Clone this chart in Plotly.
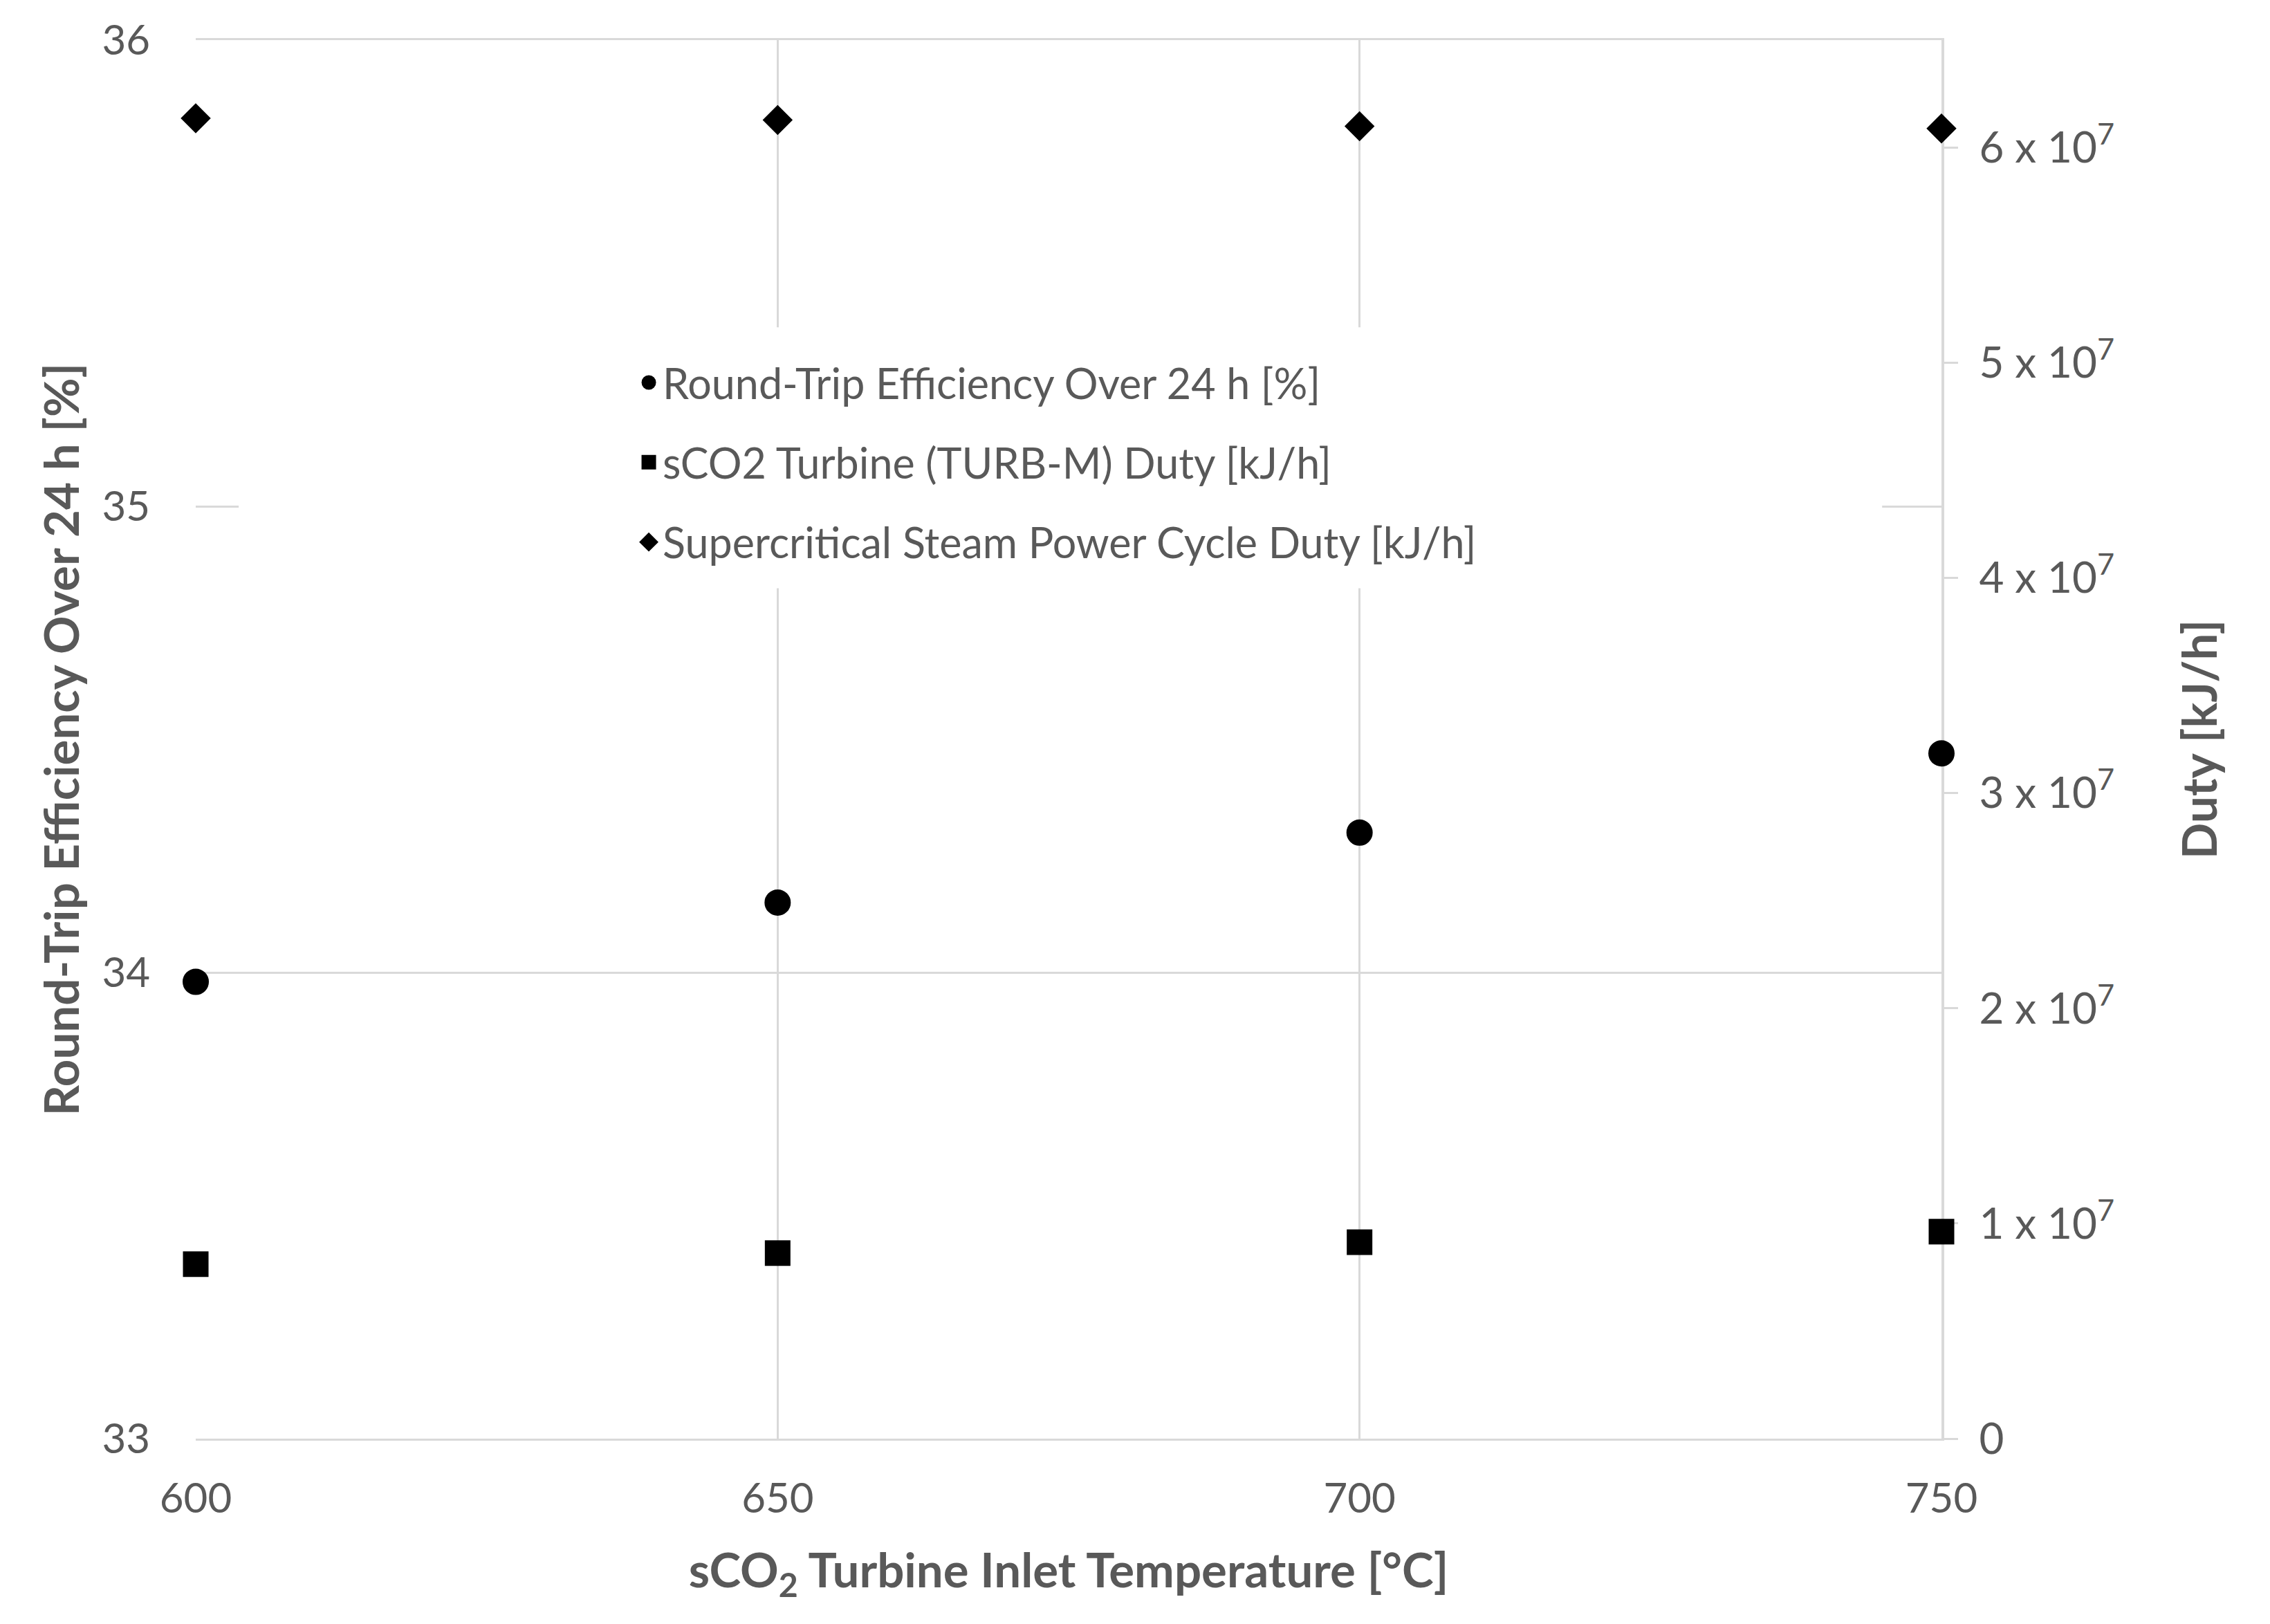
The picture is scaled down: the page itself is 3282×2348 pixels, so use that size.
import plotly.graph_objects as go

# Data
temperature = [600, 650, 700, 750]
rte_24h = [33.98, 34.15, 34.30, 34.47]               # Round-Trip Efficiency Over 24 h [%]
turb_m_duty = [0.811e7, 0.862e7, 0.913e7, 0.962e7]    # sCO2 Turbine (TURB-M) Duty [kJ/h]
steam_duty = [6.137e7, 6.129e7, 6.10e7, 6.089e7]      # Supercritical Steam Power Cycle Duty [kJ/h]

left_ticks = [33, 34, 35, 36]
right_tickvals = [0, 1e7, 2e7, 3e7, 4e7, 5e7, 6e7]
right_ticktext = ["0"] + [f"{i} x 10<sup>7</sup>" for i in range(1, 7)]
x_ticks = [600, 650, 700, 750]

FONT = "Lato"
TXT = "#595959"
GRID = "#d9d9d9"

fig = go.Figure()
fig.add_trace(go.Scatter(
    x=temperature, y=rte_24h, mode="markers", name="Round-Trip Efficiency Over 24 h [%]",
    marker=dict(symbol="circle", size=33, color="black", line=dict(width=5, color="black")),
    legendgroup="a", cliponaxis=False))
fig.add_trace(go.Scatter(
    x=temperature, y=turb_m_duty, mode="markers", name="sCO2 Turbine (TURB-M) Duty [kJ/h]",
    marker=dict(symbol="square", size=32, color="black", line=dict(width=5, color="black")),
    yaxis="y2", legendgroup="b", cliponaxis=False))
fig.add_trace(go.Scatter(
    x=temperature, y=steam_duty, mode="markers", name="Supercritical Steam Power Cycle Duty [kJ/h]",
    marker=dict(symbol="diamond", size=28, color="black", line=dict(width=5, color="black")),
    yaxis="y2", legendgroup="c", cliponaxis=False))

# white legend box covering the gridlines (no markers fall inside it)
fig.add_shape(type="rect", xref="paper", yref="paper", x0=0.0246, x1=0.966, y0=0.608, y1=0.7946,
              fillcolor="white", line=dict(width=0), layer="above")

fig.update_layout(
    width=3282, height=2348,
    margin=dict(l=275, r=483, t=47, b=276),
    paper_bgcolor="white", plot_bgcolor="white",
    font=dict(family=FONT, size=60, color=TXT),
    showlegend=True,
    legend=dict(x=0.2516, y=0.778, xanchor="left", yanchor="top",
                bgcolor="rgba(0,0,0,0)", borderwidth=0, tracegroupgap=33,
                font=dict(family=FONT, size=61, color=TXT),
                itemsizing="trace"),
    xaxis=dict(range=[600, 750], tickvals=x_ticks, showgrid=True, gridcolor=GRID, gridwidth=3,
               zeroline=False, showline=True, mirror=True, linecolor=GRID, linewidth=3,
               layer="below traces",
               ticks="", ticklabelstandoff=32, tickfont=dict(size=60),
               title=dict(text="sCO<sub>2</sub> Turbine Inlet Temperature [°C]",
                          font=dict(family=FONT, size=69, color=TXT, weight="bold"), standoff=48)),
    yaxis=dict(range=[33, 36], tickvals=left_ticks, showgrid=True, gridcolor=GRID, gridwidth=3,
               zeroline=False, showline=False,
               ticks="", ticklabelstandoff=65, tickfont=dict(size=60),
               title=dict(text="Round-Trip Efficiency Over 24 h [%]",
                          font=dict(family=FONT, size=69, color=TXT, weight="bold"), standoff=10)),
    yaxis2=dict(range=[0, 6.5e7], overlaying="y", side="right", tickvals=right_tickvals,
                ticktext=right_ticktext, showgrid=False, zeroline=False,
                showline=True, linecolor=GRID, linewidth=4, layer="below traces",
                tickfont=dict(size=62),
                ticks="outside", ticklen=20, tickcolor=GRID, tickwidth=3, ticklabelstandoff=18,
                title=dict(text="Duty [kJ/h]",
                           font=dict(family=FONT, size=69, color=TXT, weight="bold"), standoff=102)),
)

fig.write_html("out.html")
